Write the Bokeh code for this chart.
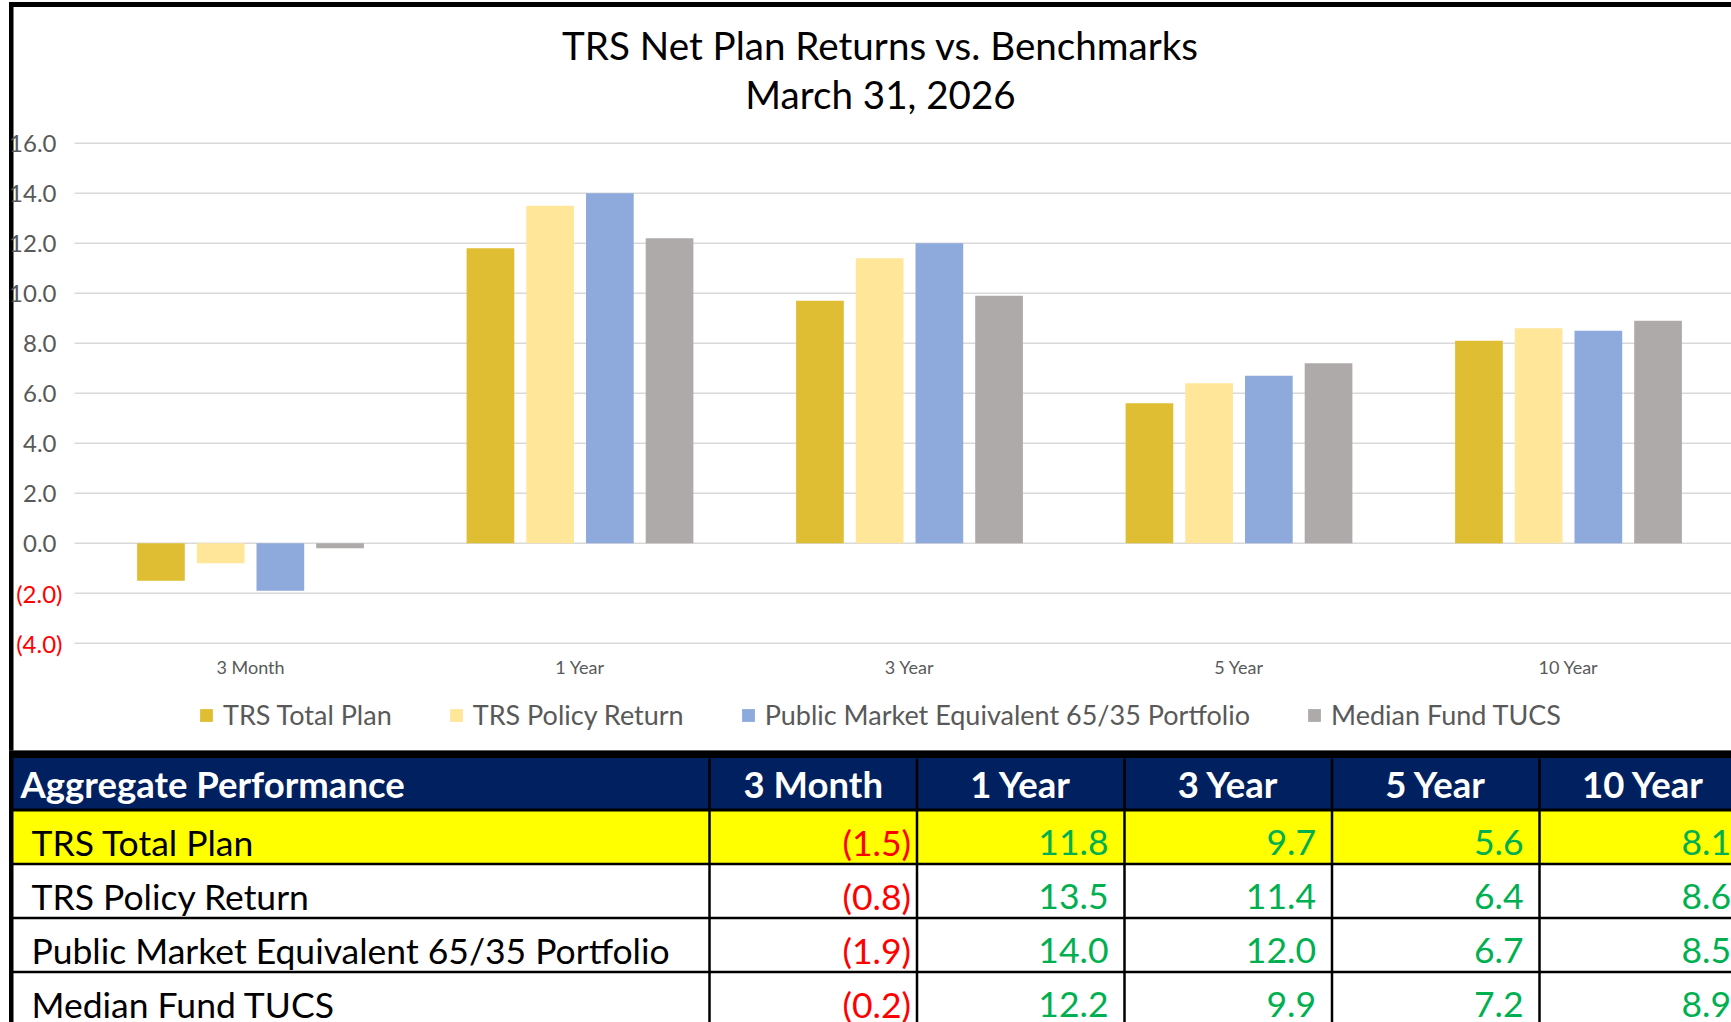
from bokeh.plotting import figure
from bokeh.models import (Range1d, ColumnDataSource, Legend, LegendItem)
from bokeh.transform import dodge
from bokeh.layouts import column
from bokeh.embed import file_html
from bokeh.resources import INLINE
from bokeh.core.properties import value

# ---------------- data ----------------
chart_title = "TRS Net Plan Returns vs. Benchmarks"
chart_subtitle = "March 31, 2026"
periods = ["3 Month", "1 Year", "3 Year", "5 Year", "10 Year"]
series_names = ["TRS Total Plan", "TRS Policy Return",
                "Public Market Equivalent 65/35 Portfolio", "Median Fund TUCS"]
trs_total_plan = [-1.5, 11.8, 9.7, 5.6, 8.1]
trs_policy_return = [-0.8, 13.5, 11.4, 6.4, 8.6]
pme_65_35 = [-1.9, 14.0, 12.0, 6.7, 8.5]
median_fund_tucs = [-0.2, 12.2, 9.9, 7.2, 8.9]
y_ticks = [-4, -2, 0, 2, 4, 6, 8, 10, 12, 14, 16]
table_title = "Aggregate Performance"

series_values = [trs_total_plan, trs_policy_return, pme_65_35, median_fund_tucs]
series_colors = ["#DFBE33", "#FFE699", "#8EA9DB", "#AEAAAA"]

FONT = "Lato"
GRAY = "#595959"
RED = "#FF0000"
GREEN = "#00B050"
NAVY = "#002060"


def fmt(v):
    return f"({abs(v):.1f})" if v < 0 else f"{v:.1f}"


# ------------- geometry (page pixels) -------------
W = 1731
CHART_H = 750
TABLE_H = 1022 - CHART_H
PLOT_L = 74            # left end of the gridlines
ZERO_PY = 542.7        # page y of value 0
PX_PER_UNIT = 25.0     # page px per value unit
CAT_PX = 329.5         # width of one category band
CAT_ORIGIN = 85.25     # page x where the first band starts
BORDER_L, BORDER_T = 9, 2


def px_to_x(px):
    return (px - CAT_ORIGIN) / CAT_PX


def py_to_y(py):
    return (ZERO_PY - py) / PX_PER_UNIT


# ---------------- chart ----------------
x_start, x_end = px_to_x(0), px_to_x(W)
p = figure(width=W, height=CHART_H, title=None,
           x_range=Range1d(x_start, x_end),
           y_range=Range1d(py_to_y(CHART_H), py_to_y(0)),
           output_backend="svg", toolbar_location=None,
           x_axis_location=None, y_axis_location=None,
           min_border=0, outline_line_color=None)
p.grid.visible = False

# outer border of the chart box
p.quad(left=[px_to_x(BORDER_L)], right=[x_end], top=[py_to_y(BORDER_T)],
       bottom=[py_to_y(BORDER_T + 4)], color="black")
p.quad(left=[px_to_x(BORDER_L)], right=[px_to_x(BORDER_L + 3.5)],
       top=[py_to_y(BORDER_T)], bottom=[py_to_y(CHART_H)], color="black")

# horizontal gridlines
p.segment(x0=[px_to_x(PLOT_L)] * len(y_ticks), x1=[x_end] * len(y_ticks),
          y0=y_ticks, y1=y_ticks, line_color="#D9D9D9", line_width=1.5)

xs = [i + 0.5 for i in range(len(periods))]
src = ColumnDataSource(dict(xc=xs, **{f"s{k}": v for k, v in enumerate(series_values)}))
BAR_W = 47.7 / CAT_PX
STEP = 59.7 / CAT_PX
renderers = []
for k, color in enumerate(series_colors):
    off = (k - 1.5) * STEP
    r = p.vbar(x=dodge("xc", off, range=p.x_range), top=f"s{k}", bottom=0,
               width=BAR_W, source=src, fill_color=color, line_color=None)
    renderers.append(r)

# y tick labels (accounting style: negatives red in parentheses)
tick_src = ColumnDataSource(dict(
    y=y_ticks, x=[px_to_x(PLOT_L)] * len(y_ticks), text=[fmt(t) for t in y_ticks],
    color=[RED if t < 0 else GRAY for t in y_ticks],
    xo=[-12 if t < 0 else -18 for t in y_ticks]))
p.text(x="x", y="y", text="text", source=tick_src, x_offset="xo",
       text_align="right", text_baseline="middle", text_color="color",
       text_font=value(FONT), text_font_size=value("24px"))

# category labels
cat_src = ColumnDataSource(dict(x=xs, y=[py_to_y(666)] * len(xs), text=periods))
p.text(x="x", y="y", text="text", source=cat_src, text_align="center",
       text_baseline="middle", text_color=GRAY, text_font=value(FONT),
       text_font_size=value("18px"))

# title (two centred lines)
p.text(x=[px_to_x(880)] * 2, y=[py_to_y(44), py_to_y(93.5)],
       text=[chart_title, chart_subtitle], text_align="center",
       text_baseline="middle", text_color="black", text_font=value(FONT),
       text_font_size=value("38.6px"))

legend = Legend(items=[LegendItem(label=n, renderers=[r]) for n, r in zip(series_names, renderers)],
                orientation="horizontal", location=(198, CHART_H - 731),
                spacing=56, glyph_width=16, glyph_height=16, label_standoff=9,
                padding=0, margin=0, border_line_color=None, background_fill_alpha=0,
                label_text_font=FONT, label_text_font_size="27px", label_text_color=GRAY)
p.add_layout(legend)

# ---------------- table ----------------
T_TOP, T_BOT = CHART_H, CHART_H + TABLE_H
t = figure(width=W, height=TABLE_H, title=None,
           x_range=Range1d(0, W), y_range=Range1d(T_BOT, T_TOP),
           output_backend="svg", toolbar_location=None, x_axis_location=None,
           y_axis_location=None, min_border=0, outline_line_color=None)
t.grid.visible = False

BAR_BOT = 758
HDR_LINE = 809.5
ROW_PITCH = 54
LABEL_R = 709
COL_W = 207.5
L, R = BORDER_L, W

t.quad(left=[L], right=[R], top=[T_TOP], bottom=[BAR_BOT], color="black")
t.quad(left=[L], right=[R], top=[BAR_BOT], bottom=[HDR_LINE], color=NAVY)
t.quad(left=[L], right=[R], top=[HDR_LINE], bottom=[HDR_LINE + ROW_PITCH], color="#FFFF00")
t.quad(left=[L], right=[L + 3.5], top=[T_TOP], bottom=[T_BOT], color="black")

row_lines = [HDR_LINE + ROW_PITCH * i for i in range(len(series_names))]
t.segment(x0=[L] * len(row_lines), x1=[R] * len(row_lines), y0=row_lines, y1=row_lines,
          line_color="black", line_width=[3] + [2.5] * (len(row_lines) - 1))
col_lines = [LABEL_R + COL_W * j for j in range(len(periods) + 1)]
t.segment(x0=col_lines, x1=col_lines, y0=[BAR_BOT] * len(col_lines), y1=[T_BOT] * len(col_lines),
          line_color="black", line_width=2.5)

HFS, TFS = "36.5px", "35.5px"
HDR_MID = 783.5
ROW_MID_OFF = 21.5   # text middle above the line closing each row

hdr_src = ColumnDataSource(dict(
    x=[LABEL_R + COL_W * (j + 0.5) for j in range(len(periods))],
    y=[HDR_MID] * len(periods), text=periods))
t.text(x="x", y="y", text="text", source=hdr_src, text_align="center",
       text_baseline="middle", text_color="white", text_font=value(FONT),
       text_font_size=value(HFS), text_font_style="bold")
t.text(x=[20], y=[HDR_MID], text=[table_title], text_align="left",
       text_baseline="middle", text_color="white", text_font=value(FONT),
       text_font_size=value(HFS), text_font_style="bold")

lab_src = ColumnDataSource(dict(
    x=[31] * len(series_names),
    y=[HDR_LINE + ROW_PITCH * (i + 1) - ROW_MID_OFF for i in range(len(series_names))],
    text=series_names))
t.text(x="x", y="y", text="text", source=lab_src, text_align="left",
       text_baseline="middle", text_color="black", text_font=value(FONT),
       text_font_size=value(TFS))

vx, vy, vt, vc = [], [], [], []
for i, vals in enumerate(series_values):
    for j, v in enumerate(vals):
        right = LABEL_R + COL_W * (j + 1)
        vx.append(right - (6 if v < 0 else 16))
        vy.append(HDR_LINE + ROW_PITCH * (i + 1) - ROW_MID_OFF)
        vt.append(fmt(v))
        vc.append(RED if v < 0 else GREEN)
val_src = ColumnDataSource(dict(x=vx, y=vy, text=vt, color=vc))
t.text(x="x", y="y", text="text", source=val_src, text_align="right",
       text_baseline="middle", text_color="color", text_font=value(FONT),
       text_font_size=value(TFS))

layout = column(p, t, spacing=0)
open("out.html", "w").write(file_html(layout, INLINE))
